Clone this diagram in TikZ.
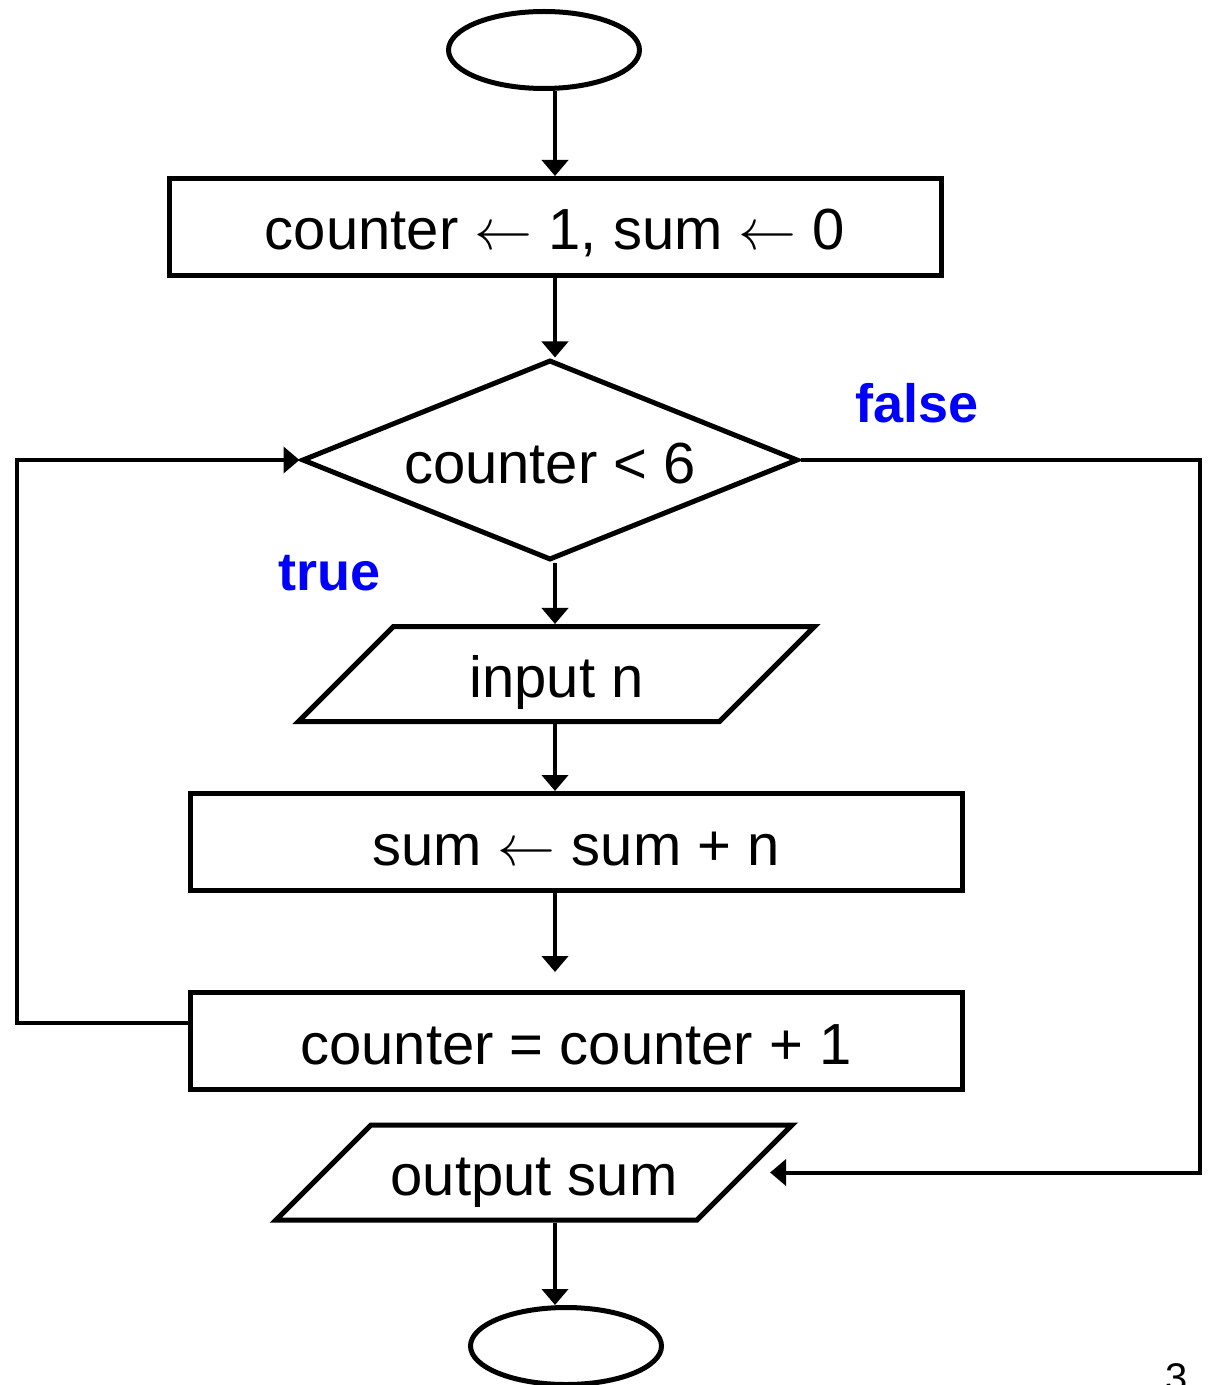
\RequirePackage{fix-cm}
\documentclass[tikz,border=0pt]{standalone}
\usepackage{fontspec}
\setmainfont{Liberation Sans}
\usetikzlibrary{shapes.geometric,arrows.meta}

\begin{document}
\begin{tikzpicture}[x=0.5pt, y=-0.5pt,
            every node/.style={font=\fontsize{29}{34}\selectfont},
            shape text/.style={text height=29pt, text depth=6pt},
            box/.style={draw, shape text, line width=2.5pt, minimum width=386pt, minimum height=48.5pt, inner sep=0pt},
            term/.style={draw, ellipse, line width=2.5pt, minimum width=95.5pt, minimum height=38.5pt},
            decision/.style={draw, diamond, shape text, aspect=2.47, line width=2.5pt, minimum width=248pt, minimum height=100pt, inner sep=0pt},
            io/.style={draw, trapezium, text height=35.25pt, text depth=12.25pt, trapezium left angle=45, trapezium right angle=135,
                       trapezium stretches body=true, line width=2.5pt, minimum width=258pt, minimum height=47.5pt, inner sep=0pt},
            flow/.style={-{Triangle[length=8pt,width=13pt]}, line width=2pt},
            lbl/.style={text=blue, font=\fontsize{27}{32}\selectfont\bfseries}
        ]
  \useasboundingbox (0,0) rectangle (1208,1385);
  \coordinate (spine) at (555,0);
  \node[term] (start) at (544,50) {};
  \node[box] (init) at (555,227) {counter $\leftarrow$ 1, sum $\leftarrow$ 0};
  \node[decision] (test) at (550,460) {counter < 6};
  \node[io] (read) at (556.5,674) {input n};
  \node[box] (acc) at (576,842) {sum $\leftarrow$ sum + n};
  \node[box] (incr) at (576,1041) {counter = counter + 1};
  \node[io] (write) at (534,1172.5) {output sum};
  \node[term] (stop) at (566,1346) {};
  \node[lbl] (no) at (917,403) {false};
  \node[lbl] (yes) at (330,573) {true};
  \node[font=\fontsize{20}{24}\selectfont, anchor=north, inner sep=0pt] (page) at (1177,1363) {3};
  \draw[flow] (start.south -| spine) -- (init.north -| spine);
  \draw[flow] (init.south -| spine) -- (test.north -| spine);
  \draw[flow] (test.south -| spine) -- (read.north -| spine);
  \draw[flow] (read.south -| spine) -- (acc.north -| spine);
  \draw[flow, shorten >=9pt] (acc.south -| spine) -- (incr.north -| spine);
  \draw[flow] ([yshift=9pt]incr.west) -- ++(-171,0) |- (test.west);
  \draw[flow] (test.east) -- ++(399,0) |- ([xshift=11pt]write.east);
  \draw[flow] (write.south -| spine) -- (stop.north -| spine);
\end{tikzpicture}
\end{document}
